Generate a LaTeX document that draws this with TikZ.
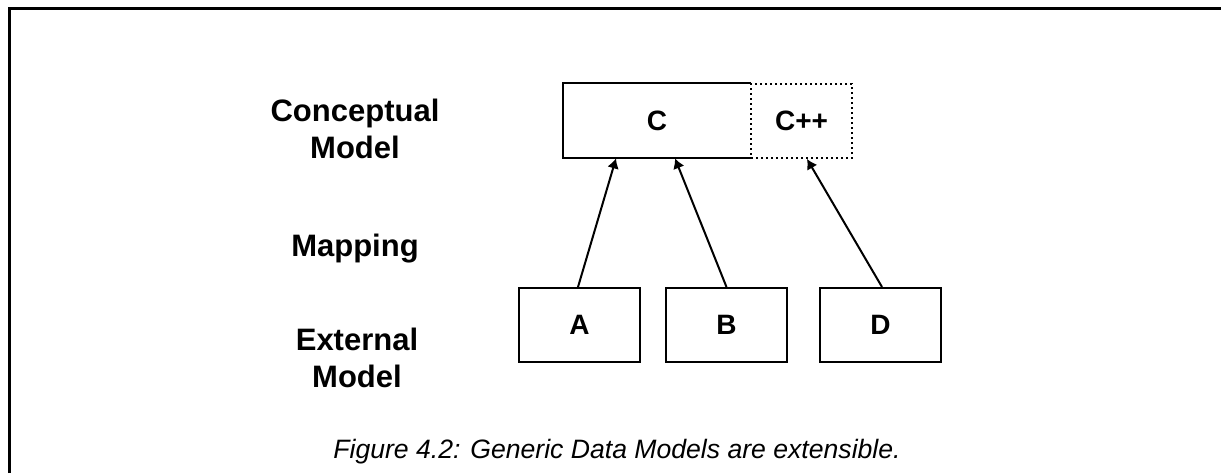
\documentclass[tikz,border=0pt]{standalone}
\usepackage{fontspec}
\setmainfont{Liberation Sans}
\usetikzlibrary{arrows.meta}
\tikzset{
  lbl/.style={font=\fontsize{15.5}{18.5}\selectfont\bfseries, align=center, anchor=base, inner sep=0pt},
  boxtxt/.style={font=\fontsize{14}{16}\selectfont\bfseries},
  ebox/.style={draw, line width=1pt, minimum width=60.5pt, minimum height=37pt, inner sep=0pt, boxtxt},
  dotbox/.style={draw, line width=1pt, dash pattern=on 1.2pt off 1.3pt, fill=white, minimum width=50.5pt, minimum height=37pt, inner sep=0pt, boxtxt},
  arr/.style={line width=1pt, -{Latex[length=5pt,width=6pt]}},
  frame/.style={line width=1.5pt}
}
\begin{document}
\begin{tikzpicture}[x=0.5pt,y=-0.5pt]
\useasboundingbox (0,0) rectangle (1221,473);
\fill[white] (0,0) rectangle (1221,473);
\coordinate (fbl) at (9,473);
\coordinate (ftl) at (9,8);
\coordinate (ftr) at (1221,8);
\draw[frame] (fbl) -- (ftl) -- (ftr);

% left labels (anchor=base is the last line's baseline)
\node[lbl] (lconc) at (355,158) {Conceptual\\Model};
\node[lbl] (lmap) at (355,256) {Mapping};
\node[lbl] (lext) at (357,387) {External\\Model};

% conceptual boxes
\node[minimum width=94pt, minimum height=37.5pt, inner sep=0pt, boxtxt] (C) at (657,120.5) {C};
\draw[line width=1pt] (C.north east) -- (C.north west) -- (C.south west) -- (C.south east);
\node[dotbox] (Cpp) at (801.5,121) {C++};

% external boxes
\node[ebox] (A) at (579.5,325) {A};
\node[ebox] (B) at (726.5,325) {B};
\node[ebox] (D) at (880.5,325) {D};

% mappings
\draw[arr] ([xshift=-0.75pt]A.north) -- ([xshift=-20.5pt]C.south);
\draw[arr] (B.north) -- ([xshift=9pt]C.south);
\draw[arr] ([xshift=0.75pt]D.north) -- ([xshift=2.75pt]Cpp.south);

% caption
\node[anchor=base, inner sep=0pt, font=\fontsize{13.3}{16}\selectfont\itshape] (cap) at (617,458) {Figure 4.2: Generic Data Models are extensible.};
\end{tikzpicture}
\end{document}
